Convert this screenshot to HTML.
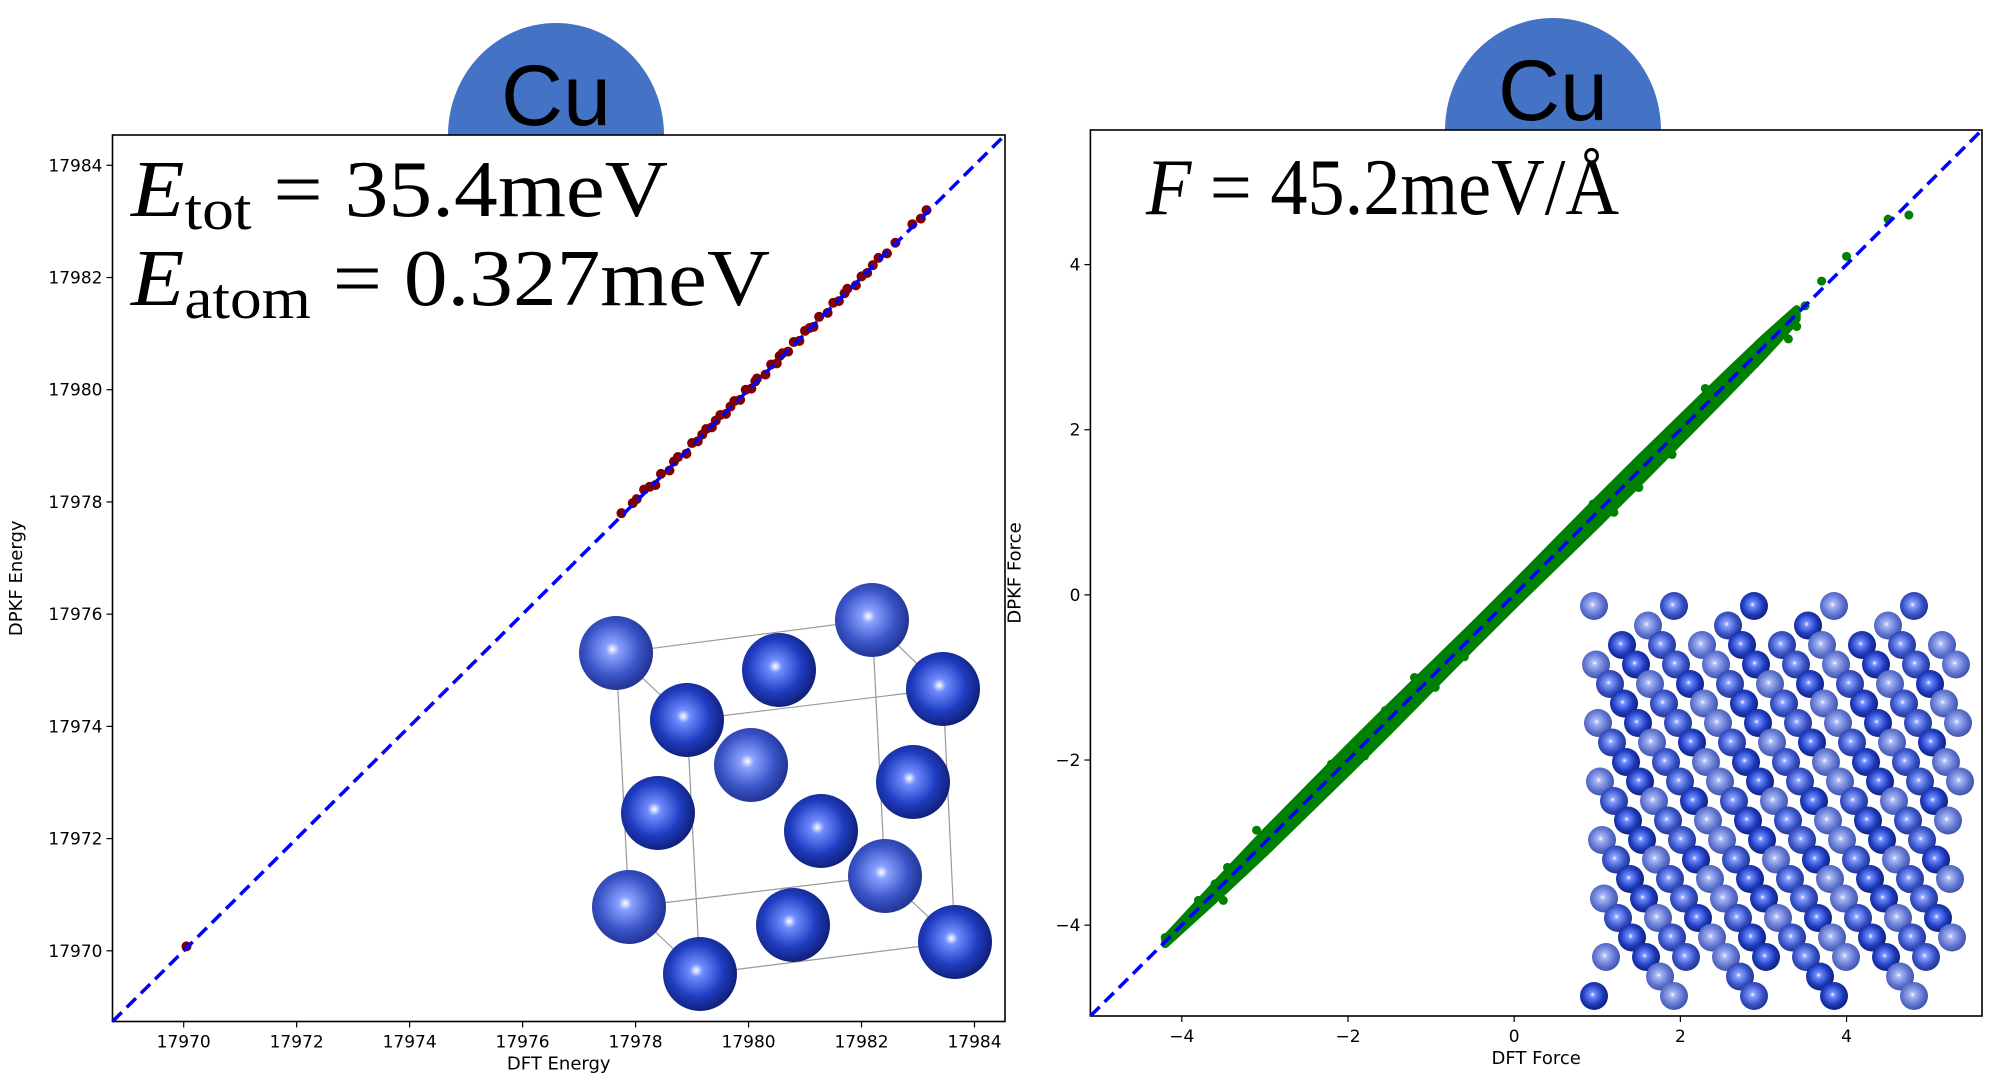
<!DOCTYPE html>
<html><head><meta charset="utf-8"><style>
html,body{margin:0;padding:0;background:#fff;}
svg{display:block;font-family:"DejaVu Sans","Liberation Sans",sans-serif;}
</style></head><body>
<svg id="fig" width="1996" height="1083" viewBox="0 0 1996 1083" xmlns="http://www.w3.org/2000/svg">
<defs>
<radialGradient id="gDark" cx="0.45" cy="0.45" r="0.6"><stop offset="0" stop-color="#ffffff"/><stop offset="0.15" stop-color="#6f8cff"/><stop offset="0.6" stop-color="#1f3cc0"/><stop offset="1" stop-color="#0c1a6a"/></radialGradient>
<radialGradient id="gMid" cx="0.45" cy="0.45" r="0.6"><stop offset="0" stop-color="#ffffff"/><stop offset="0.15" stop-color="#8aa0ff"/><stop offset="0.6" stop-color="#3a55c8"/><stop offset="1" stop-color="#1c2c88"/></radialGradient>
<radialGradient id="gLight" cx="0.45" cy="0.45" r="0.6"><stop offset="0" stop-color="#ffffff"/><stop offset="0.15" stop-color="#a9b8f5"/><stop offset="0.6" stop-color="#6277d2"/><stop offset="1" stop-color="#3a4ca0"/></radialGradient>
<clipPath id="clipR"><rect x="1090" y="130" width="892" height="886"/></clipPath>
</defs>
<g id="layer"></g>
</svg>
<script>
// ---- Left chart data (energy) ----
const energyDFT = [17970.05,17977.75,17977.95,17978.02,17978.15,17978.25,17978.35,17978.45,17978.6,17978.68,17978.75,17978.9,17979.0,17979.1,17979.18,17979.25,17979.35,17979.42,17979.5,17979.6,17979.68,17979.75,17979.85,17979.95,17980.05,17980.12,17980.15,17980.3,17980.4,17980.5,17980.55,17980.6,17980.7,17980.8,17980.9,17981.0,17981.08,17981.15,17981.25,17981.4,17981.5,17981.6,17981.7,17981.75,17981.9,17982.0,17982.1,17982.2,17982.3,17982.45,17982.6,17982.9,17983.05,17983.15];
const energyDPKF = [17970.08,17977.8,17977.98,17978.05,17978.22,17978.27,17978.3,17978.5,17978.56,17978.72,17978.8,17978.86,17979.05,17979.08,17979.2,17979.3,17979.33,17979.45,17979.55,17979.57,17979.7,17979.8,17979.82,17980.0,17980.02,17980.15,17980.2,17980.27,17980.45,17980.47,17980.6,17980.65,17980.68,17980.85,17980.87,17981.05,17981.1,17981.12,17981.3,17981.37,17981.55,17981.58,17981.72,17981.8,17981.86,17982.02,17982.08,17982.22,17982.35,17982.43,17982.62,17982.95,17983.05,17983.2];
const energyTicks = [17970,17972,17974,17976,17978,17980,17982,17984];
// ---- Right chart data (force) ----
const bandX = [-4.2,-3.5,-3.0,-2.5,-2.0,-1.5,-1.0,-0.5,0,0.5,1.0,1.5,2.0,2.5,3.0,3.4];
const bandHalf = [0.03,0.09,0.12,0.13,0.14,0.14,0.13,0.12,0.12,0.13,0.14,0.14,0.13,0.12,0.1,0.06];
const forceDFT = [-4.2,-3.9,-3.8,-3.6,-3.5,-3.45,-3.1,-2.85,-2.2,-1.8,-1.55,-1.2,-0.95,-0.6,-0.4,0.3,0.95,1.2,1.5,1.9,2.3,2.9,3.3,3.4,3.5,3.7,4.0,4.5,4.75];
const forceDPKF = [-4.15,-3.92,-3.7,-3.5,-3.7,-3.3,-2.85,-2.95,-2.05,-1.95,-1.4,-1.0,-1.12,-0.75,-0.45,0.3,1.1,1.0,1.3,1.7,2.5,2.8,3.1,3.25,3.5,3.8,4.1,4.55,4.6];
const forceTicks = [-4,-2,0,2,4];

const NS="http://www.w3.org/2000/svg";
const layer=document.getElementById('layer');
function mk(tag,attrs,parent){const e=document.createElementNS(NS,tag);for(const k in attrs)e.setAttribute(k,attrs[k]);(parent||layer).appendChild(e);return e;}

const L={x0:112.5,x1:1005,y0:1021.5,y1:135,xmin:17968.74,xmax:17984.54,ymin:17968.74,ymax:17984.54};
const R={x0:1090.4,x1:1982,y0:1016,y1:130,xmin:-5.10,xmax:5.63,ymin:-5.10,ymax:5.63};
function sx(A,v){return A.x0+(v-A.xmin)/(A.xmax-A.xmin)*(A.x1-A.x0);}
function sy(A,v){return A.y0-(v-A.ymin)/(A.ymax-A.ymin)*(A.y0-A.y1);}

function cuCap(cx,base,name){
  const g=mk('g',{});
  
  
  mk('path',{d:`M${cx-108},${base} A108,112 0 0 1 ${cx+108},${base} Z`,fill:'#4472c4'},g);
  const t=mk('text',{x:cx,y:base-10,'text-anchor':'middle','font-size':'86','font-family':'"Liberation Sans",sans-serif',fill:'#000'},g);
  t.textContent='Cu';
}
cuCap(556,135,'cu-label-left');
cuCap(1553,130,'cu-label-right');

function sphere(cx,cy,r,grad,parent){mk('circle',{cx:cx,cy:cy,r:r,fill:`url(#${grad})`},parent);}

// ---- Left inset (FCC cell) ----
const ins=mk('g',{});


const edges=[[616,653,872,620],[616,653,629,907],[872,620,885,876],[629,907,885,876],[687,720,943,689],[687,720,700,974],[943,689,955,942],[700,974,955,942],[616,653,687,720],[872,620,943,689],[629,907,700,974],[885,876,955,942]];
edges.forEach(e=>mk('line',{x1:e[0],y1:e[1],x2:e[2],y2:e[3],stroke:'#999','stroke-width':1.2},ins));
const atoms=[[872,620,'gMid'],[616,653,'gMid'],[779,670,'gDark'],[943,689,'gDark'],[687,720,'gDark'],[751,765,'gMid'],[913,782,'gDark'],[658,813,'gDark'],[821,831,'gDark'],[885,876,'gMid'],[629,907,'gMid'],[793,925,'gDark'],[955,942,'gDark'],[700,974,'gDark']];
atoms.forEach(a=>sphere(a[0],a[1],37,a[2],ins));

// ---- Right inset (slab) ----
const ins2=mk('g',{});


const grads=['gLight','gMid','gDark'];
for(let j=0;j<21;j++){
  const y=606+j*19.5;
  const off=(j*14)%40;
  for(let i=0;i<10;i++){
    const x=1594+off+i*40;
    if(x>1960)continue;
    if((j<2||j>18)&&(i%2!==(j%2)))continue;
    sphere(x,y,14,grads[(i*2+j)%3],ins2);
  }
}

function axes(A,name,ticks,xlabel,ylabel,tickFmt){
  const g=mk('g',{});
  
  
  mk('rect',{x:A.x0,y:A.y1,width:A.x1-A.x0,height:A.y0-A.y1,fill:'none',stroke:'#000','stroke-width':1.6},g);
  ticks.forEach(v=>{
    const x=sx(A,v);
    if(x>A.x0&&x<A.x1){
      mk('line',{x1:x,y1:A.y0,x2:x,y2:A.y0+6,stroke:'#000','stroke-width':1.2},g);
      const t=mk('text',{x:x,y:A.y0+26,'text-anchor':'middle','font-size':'17',fill:'#000'},g);
      
      
      t.textContent=tickFmt(v);
    }
    const y=sy(A,v);
    if(y>A.y1&&y<A.y0){
      mk('line',{x1:A.x0,y1:y,x2:A.x0-6,y2:y,stroke:'#000','stroke-width':1.2},g);
      const t=mk('text',{x:A.x0-10,y:y+6,'text-anchor':'end','font-size':'17',fill:'#000'},g);
      
      
      t.textContent=tickFmt(v);
    }
  });
  const xl=mk('text',{x:(A.x0+A.x1)/2,y:A.y0+48,'text-anchor':'middle','font-size':'18',fill:'#000'},g);
  
  
  xl.textContent=xlabel;
  const cy=(A.y0+A.y1)/2;
  const yx=A===L?22:A.x0-70;
  const yl=mk('text',{x:yx,y:cy,'text-anchor':'middle','font-size':'18',fill:'#000',transform:`rotate(-90 ${yx} ${cy})`},g);
  
  
  yl.textContent=ylabel;
}
axes(L,'energy-axes',energyTicks,'DFT Energy','DPKF Energy',v=>String(v));
axes(R,'force-axes',forceTicks,'DFT Force','DPKF Force',v=>v<0?'\u2212'+Math.abs(v):String(v));

const lp=mk('g',{});


energyDFT.forEach((v,i)=>{mk('circle',{cx:sx(L,v),cy:sy(L,energyDPKF[i]),r:5,fill:'#800000'},lp);});

const rp=mk('g',{'clip-path':'url(#clipR)'});


let up=bandX.map((x,i)=>`${sx(R,x)},${sy(R,x+bandHalf[i])}`);
let dn=bandX.map((x,i)=>`${sx(R,x)},${sy(R,x-bandHalf[i])}`).reverse();
mk('polygon',{points:up.concat(dn).join(' '),fill:'#008000',stroke:'#008000','stroke-width':8,'stroke-linejoin':'round'},rp);
forceDFT.forEach((v,i)=>{mk('circle',{cx:sx(R,v),cy:sy(R,forceDPKF[i]),r:4.5,fill:'#008000'},rp);});

// identity lines y = x across the axis range
function diag(A,name){
  const a=Math.max(A.xmin,A.ymin), b=Math.min(A.xmax,A.ymax);
  const l=mk('line',{x1:sx(A,a),y1:sy(A,a),x2:sx(A,b),y2:sy(A,b),stroke:'#0000ff','stroke-width':3.5,'stroke-dasharray':'13 7'});
  
  
}
diag(L,'energy-identity-line');
diag(R,'force-identity-line');

function mathText(x,y,parts,name,len){
  const t=mk('text',{x:x,y:y,'font-size':'80','font-family':'"Liberation Serif",serif',fill:'#000',textLength:len,lengthAdjust:'spacingAndGlyphs'});
  
  
  parts.forEach(p=>{const s=mk('tspan',p.a||{},t);s.textContent=p.t;});
}
mathText(131,216,[{t:'E',a:{'font-style':'italic'}},{t:'tot',a:{'font-size':'58',dy:'13'}},{t:' = 35.4meV',a:{dy:'-13'}}],'energy-total-error',537);
mathText(131,305,[{t:'E',a:{'font-style':'italic'}},{t:'atom',a:{'font-size':'58',dy:'13'}},{t:' = 0.327meV',a:{dy:'-13'}}],'energy-atom-error',639);
mathText(1146,214,[{t:'F',a:{'font-style':'italic'}},{t:' = 45.2meV/Å'}],'force-error',473);
</script>
</body></html>
